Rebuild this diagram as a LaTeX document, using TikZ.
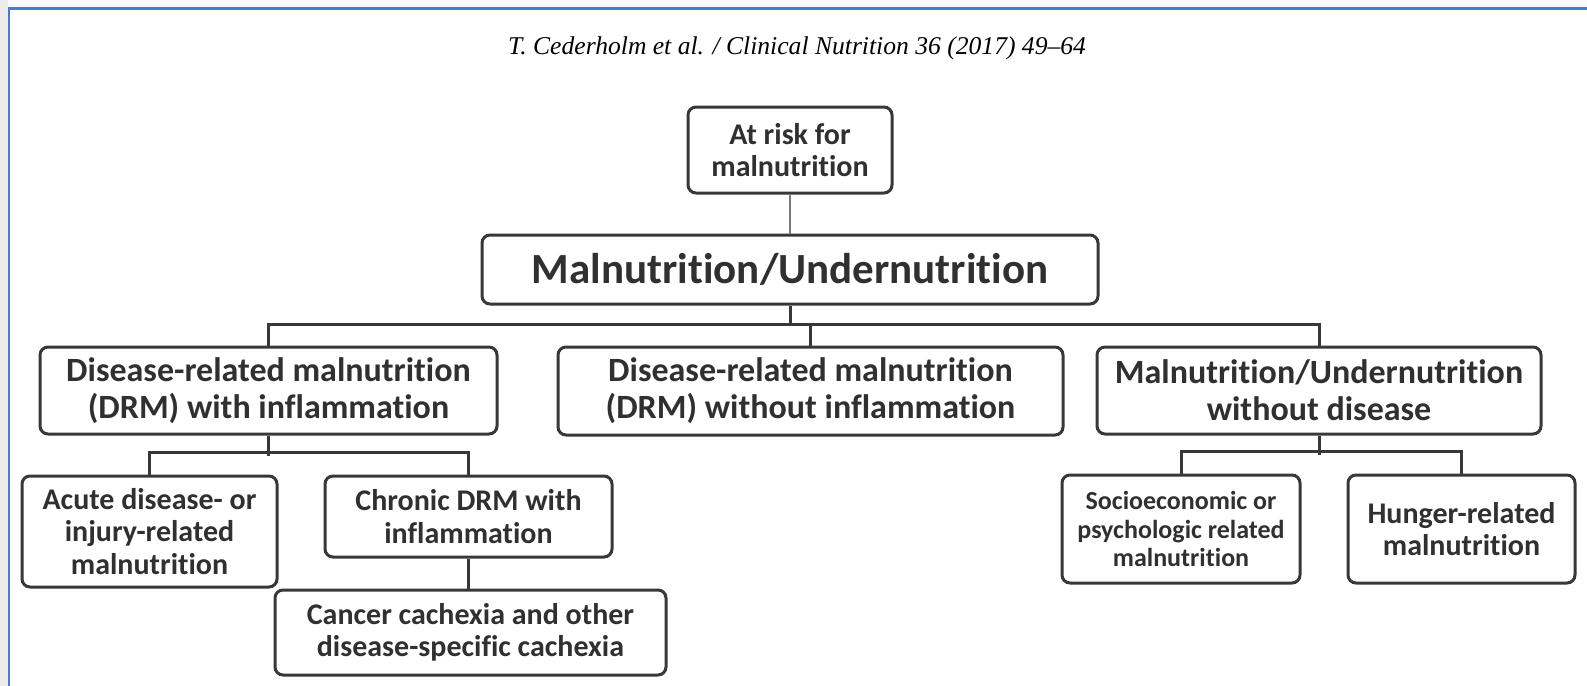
\documentclass[tikz,border=0pt]{standalone}
\usepackage{fontspec}
\setmainfont{Carlito}[Ligatures=NoCommon]
\newfontfamily\hdrfont{Liberation Serif}
\usetikzlibrary{positioning}

\definecolor{boxgray}{HTML}{38383A}
\definecolor{txtgray}{HTML}{303032}
\definecolor{riskgray}{HTML}{7A7A7A}
\definecolor{frameblue}{HTML}{4A7BD0}
\definecolor{stripgray}{HTML}{ECECEC}

\tikzset{
  box/.style={draw=boxgray, line width=1.5pt, rounded corners=4pt, inner sep=0pt,
    align=center, text=txtgray, font=\bfseries\fontsize{17}{18.5}\selectfont},
  midbox/.style={box, font=\bfseries\fontsize{15}{16.3}\selectfont},
  smallbox/.style={box, font=\bfseries\fontsize{13}{14.2}\selectfont},
  link/.style={draw=boxgray, line width=1.5pt},
}

\begin{document}
\begin{tikzpicture}[x=0.5pt, y=-0.5pt]
\useasboundingbox (0,0) rectangle (1587,686);
\fill[white] (0,0) rectangle (1587,686);
\fill[stripgray] (0,0) rectangle (8,686);
\fill[gray!4] (8,0) rectangle (1587,7);
\draw[frameblue, line width=1.1pt] (9,686) -- (9,8.5) -- (1587,8.5);

% header
\node[font=\hdrfont\itshape\fontsize{12.8}{14}\selectfont, text=black] (hdr) at (797,48)
  {T. Cederholm et al. / Clinical Nutrition 36 (2017) 49–64};

% top
\node[midbox, minimum width=102pt, minimum height=43pt] (risk) at (790,150)
  {At risk for\\malnutrition};
\node[box, font=\bfseries\fontsize{21.5}{23}\selectfont, minimum width=308pt, minimum height=34.5pt] (main) at (790,269.5)
  {Malnutrition/Undernutrition};

% second row
\node[box, minimum width=228.5pt, minimum height=43.5pt] (drmin) at (268.5,390.5)
  {Disease-related malnutrition\\(DRM) with inflammation};
\node[box, minimum width=252.5pt, minimum height=44pt] (drmout) at (810.5,391)
  {Disease-related malnutrition\\(DRM) without inflammation};
\node[box, minimum width=222pt, minimum height=43.5pt] (mwod) at (1319,390.5)
  {Malnutrition/Undernutrition\\without disease};

% third row
\node[midbox, minimum width=127.5pt, minimum height=55.5pt] (acute) at (149.5,531.5)
  {Acute disease- or\\injury-related\\malnutrition};
\node[midbox, minimum width=143.5pt, minimum height=40.5pt] (chronic) at (468.5,516.5)
  {Chronic DRM with\\inflammation};
\node[midbox, minimum width=195.5pt, minimum height=42.5pt] (cancer) at (470.5,632.5)
  {Cancer cachexia and other\\disease-specific cachexia};
\node[smallbox, minimum width=119pt, minimum height=54pt] (socio) at (1181,529)
  {Socioeconomic or\\psychologic related\\malnutrition};
\node[midbox, minimum width=113.5pt, minimum height=54pt] (hunger) at (1461.5,529)
  {Hunger-related\\malnutrition};

% connectors
\coordinate (bus) at (790,324);
\draw[riskgray, line width=1pt] (risk) -- (main);
\draw[link] (main.south) -- (main.south |- bus);
\draw[link] (drmin.north) -- (drmin.north |- bus) -| (mwod.north);
\draw[link] (drmout.north) -- (drmout.north |- bus);
\draw[link] (drmin.south) -- ++(0,20);
\draw[link] (acute.north) -- ++(0,-22) -| (chronic.north);
\draw[link] (chronic.south) -- (chronic.south |- cancer.north);
\draw[link] (mwod.south) -- ++(0,19);
\draw[link] (socio.north) -- ++(0,-22) -| (hunger.north);
\end{tikzpicture}
\end{document}
